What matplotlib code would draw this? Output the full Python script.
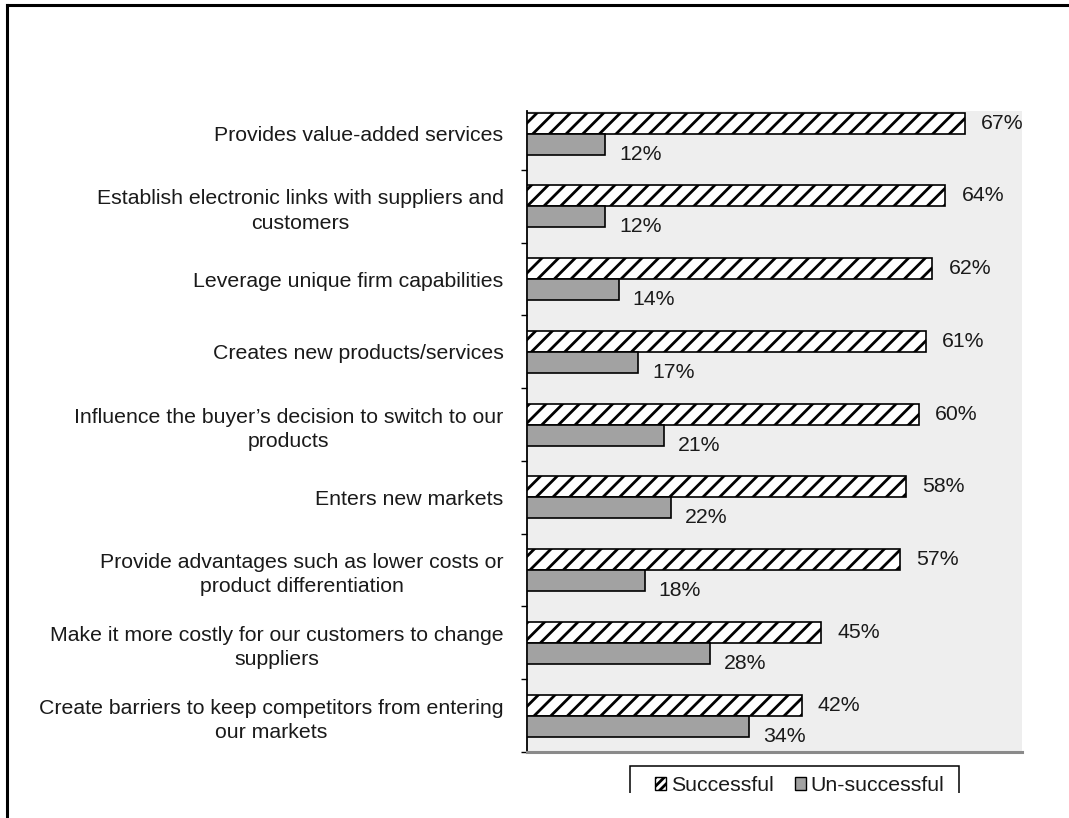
import matplotlib
matplotlib.use("Agg")
import matplotlib.pyplot as plt
from matplotlib.patches import Patch, Rectangle
from matplotlib.lines import Line2D
import numpy as np

categories = [
    "Provides value-added services",
    "Establish electronic links with suppliers and\ncustomers",
    "Leverage unique firm capabilities",
    "Creates new products/services",
    "Influence the buyer’s decision to switch to our\nproducts",
    "Enters new markets",
    "Provide advantages such as lower costs or\nproduct differentiation",
    "Make it more costly for our customers to change\nsuppliers",
    "Create barriers to keep competitors from entering\nour markets",
]
successful = [67, 64, 62, 61, 60, 58, 57, 45, 42]
unsuccessful = [12, 12, 14, 17, 21, 22, 18, 28, 34]
series_names = ["Successful", "Un-successful"]

plt.rcParams["font.family"] = ["Liberation Sans", "DejaVu Sans"]
plt.rcParams["hatch.linewidth"] = 2.0

W, H = 1069, 818
fig = plt.figure(figsize=(W / 100, H / 100), dpi=100)
fig.patch.set_facecolor("white")

ax_top, ax_bottom = 111, 752
ax = fig.add_axes([527 / W, 1 - ax_bottom / H, (1022 - 527) / W, (ax_bottom - ax_top) / H])
ax.set_facecolor("#eeeeee")

y = np.arange(len(categories))
bh = 0.289
txt_color = "#1a1a1a"
fs = 15.3

ax.barh(y - bh / 2, successful, height=bh, facecolor="white", edgecolor="black",
        hatch="//", linewidth=1.2, zorder=3)
ax.barh(y + bh / 2, unsuccessful, height=bh, facecolor="#a2a2a2", edgecolor="black",
        linewidth=1.2, zorder=3)

for yi, v in zip(y, successful):
    ax.annotate(f"{v}%", xy=(v, yi - bh / 2), xytext=(16, 0), textcoords="offset pixels",
                ha="left", va="center", fontsize=fs, color=txt_color, clip_on=False)
for yi, v in zip(y, unsuccessful):
    ax.annotate(f"{v}%", xy=(v, yi + bh / 2), xytext=(14, -10), textcoords="offset pixels",
                ha="left", va="center", fontsize=fs, color=txt_color, clip_on=False)

ax.set_xlim(0, 75.7)
ax.set_ylim(len(categories) - 0.5, -0.31)
ax.set_xticks([])
ax.set_yticks(y)
ax.set_yticklabels(categories, fontsize=fs, color=txt_color, multialignment="center",
                   linespacing=1.35)
ax.set_yticks(np.arange(1, len(categories) + 1) - 0.5, minor=True)
ax.tick_params(axis="y", which="major", length=0, pad=17)
ax.tick_params(axis="y", which="minor", length=4.5, width=1.0, direction="out", color="black")

for s in ("top", "right"):
    ax.spines[s].set_visible(False)
ax.spines["left"].set_color("black")
ax.spines["left"].set_linewidth(1.3)
ax.spines["bottom"].set_color("#8a8a8a")
ax.spines["bottom"].set_linewidth(2.2)

# legend frame, cut off by the bottom edge of the canvas
fig.add_artist(Rectangle((630 / W, 1 - 830 / H), (959 - 630) / W, (830 - 766) / H,
                         transform=fig.transFigure, facecolor="white",
                         edgecolor="black", linewidth=1.1, zorder=15))

handles = [
    Patch(facecolor="white", edgecolor="black", hatch="////", linewidth=1.0),
    Patch(facecolor="#a2a2a2", edgecolor="black", linewidth=1.0),
]
leg = fig.legend(handles, series_names, loc="upper left",
                 bbox_to_anchor=(655 / W, 1 - 776 / H), ncol=2, fontsize=fs,
                 frameon=False, handlelength=0.5, handleheight=0.5,
                 handletextpad=0.25, columnspacing=1.0, borderpad=0,
                 borderaxespad=0)
leg.set_zorder(16)
for t in leg.get_texts():
    t.set_color(txt_color)

# white band at the bottom edge of the canvas
fig.add_artist(Rectangle((9 / W, 0), 1, (818 - 793) / H, transform=fig.transFigure,
                         facecolor="white", edgecolor="none", zorder=20))
# outer frame: top and left edges
fig.add_artist(Line2D([7 / W, 1], [1 - 5 / H, 1 - 5 / H], transform=fig.transFigure,
                      color="black", linewidth=2.2, zorder=30))
fig.add_artist(Line2D([7 / W, 7 / W], [0, 1 - 5 / H], transform=fig.transFigure,
                      color="black", linewidth=2.2, zorder=30))

fig.savefig("out.png", dpi=100)
